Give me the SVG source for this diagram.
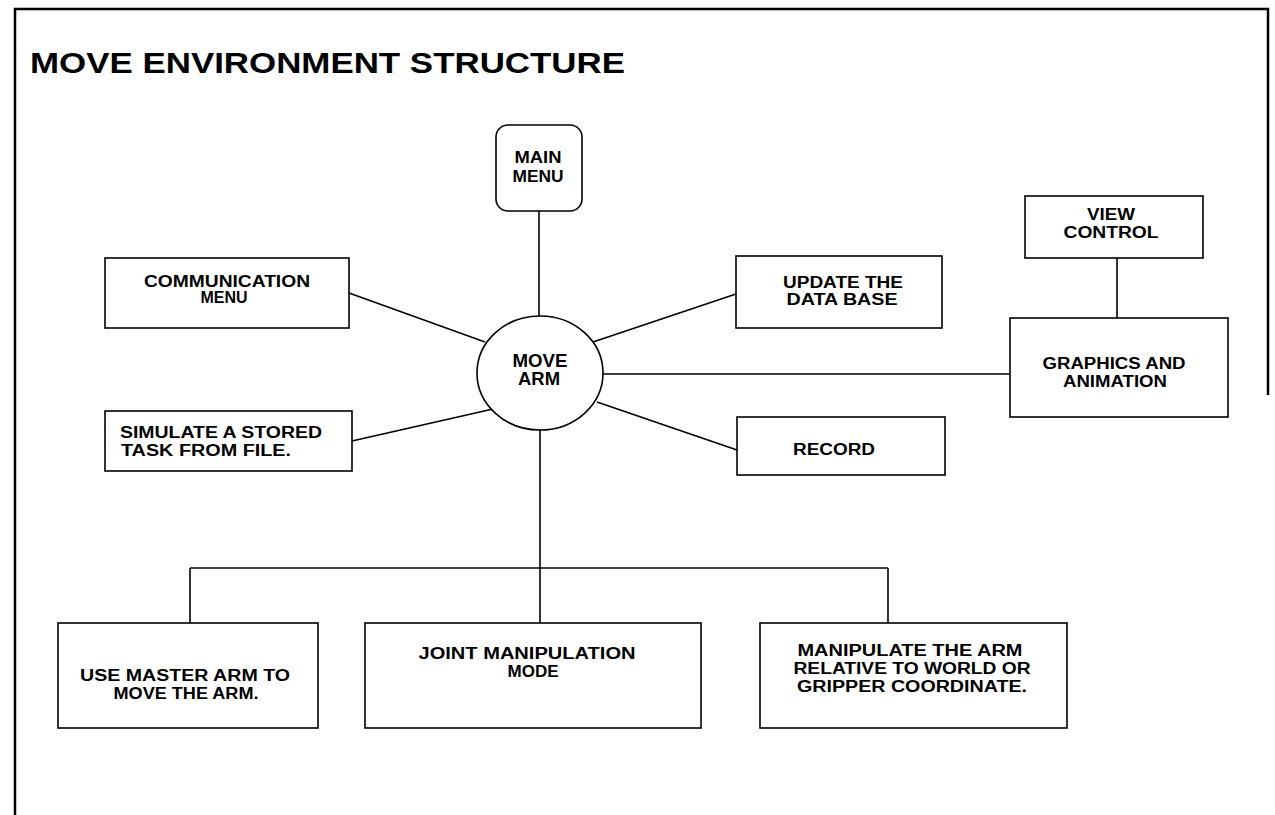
<svg xmlns="http://www.w3.org/2000/svg" width="1275" height="815" viewBox="0 0 1275 815">
<style>
.box{fill:#fff;stroke:#000;stroke-width:1.6}
.frame{fill:none;stroke:#000;stroke-width:2.5}
.conn line{stroke:#000;stroke-width:1.6}
text{font-family:"Liberation Sans",Arial,sans-serif;font-weight:bold;fill:#000;text-anchor:middle}
.t{font-size:16px}
.m{font-size:18px}
.title{font-size:29px;text-anchor:start}
</style>
<rect width="1275" height="815" fill="#fff"/>
<g id="frame">
<path class="frame" d="M15 815 V9 H1268 V395"/>
<text class="title" x="30" y="73" textLength="595" lengthAdjust="spacingAndGlyphs">MOVE ENVIRONMENT STRUCTURE</text>
</g>
<g class="conn" id="connectors">
<line x1="539" y1="211" x2="539" y2="317"/>
<line x1="349" y1="293" x2="485" y2="342"/>
<line x1="352" y1="441" x2="493" y2="409"/>
<line x1="593" y1="342" x2="736" y2="294"/>
<line x1="597" y1="402" x2="737" y2="450"/>
<line x1="603" y1="374" x2="1010" y2="374"/>
<line x1="1117" y1="258" x2="1117" y2="318"/>
<line x1="540" y1="430" x2="540" y2="623"/>
<line x1="190" y1="568" x2="888" y2="568"/>
<line x1="190" y1="568" x2="190" y2="623"/>
<line x1="888" y1="568" x2="888" y2="623"/>
</g>
<g id="main-menu">
<rect class="box" x="496" y="125" width="86" height="86" rx="12"/>
<text class="t" x="538" y="163" textLength="47" lengthAdjust="spacingAndGlyphs">MAIN</text>
<text class="t" x="538" y="182" textLength="51" lengthAdjust="spacingAndGlyphs">MENU</text>
</g>
<g id="move-arm">
<ellipse class="box" cx="540" cy="373" rx="63" ry="57"/>
<text class="m" x="540" y="367" textLength="55" lengthAdjust="spacingAndGlyphs">MOVE</text>
<text class="m" x="539" y="385" textLength="42" lengthAdjust="spacingAndGlyphs">ARM</text>
</g>
<g id="communication-menu">
<rect class="box" x="105" y="258" width="244" height="70"/>
<text class="t" x="227" y="287" textLength="166" lengthAdjust="spacingAndGlyphs">COMMUNICATION</text>
<text class="t" x="224" y="303" textLength="47" lengthAdjust="spacingAndGlyphs">MENU</text>
</g>
<g id="simulate">
<rect class="box" x="105" y="411" width="247" height="60"/>
<text class="t" x="221" y="438" textLength="202" lengthAdjust="spacingAndGlyphs">SIMULATE A STORED</text>
<text class="t" x="206" y="456" textLength="170" lengthAdjust="spacingAndGlyphs">TASK FROM FILE.</text>
</g>
<g id="update-database">
<rect class="box" x="736" y="256" width="206" height="72"/>
<text class="t" x="843" y="288" textLength="120" lengthAdjust="spacingAndGlyphs">UPDATE THE</text>
<text class="t" x="842" y="305" textLength="111" lengthAdjust="spacingAndGlyphs">DATA BASE</text>
</g>
<g id="record">
<rect class="box" x="737" y="417" width="208" height="58"/>
<text class="t" x="834" y="455" textLength="82" lengthAdjust="spacingAndGlyphs">RECORD</text>
</g>
<g id="view-control">
<rect class="box" x="1025" y="196" width="178" height="62"/>
<text class="t" x="1111" y="220" textLength="48" lengthAdjust="spacingAndGlyphs">VIEW</text>
<text class="t" x="1111" y="238" textLength="95" lengthAdjust="spacingAndGlyphs">CONTROL</text>
</g>
<g id="graphics-animation">
<rect class="box" x="1010" y="318" width="218" height="99"/>
<text class="t" x="1114" y="369" textLength="143" lengthAdjust="spacingAndGlyphs">GRAPHICS AND</text>
<text class="t" x="1115" y="387" textLength="104" lengthAdjust="spacingAndGlyphs">ANIMATION</text>
</g>
<g id="master-arm">
<rect class="box" x="58" y="623" width="260" height="105"/>
<text class="t" x="185" y="681" textLength="210" lengthAdjust="spacingAndGlyphs">USE MASTER ARM TO</text>
<text class="t" x="186" y="699" textLength="145" lengthAdjust="spacingAndGlyphs">MOVE THE ARM.</text>
</g>
<g id="joint-manipulation">
<rect class="box" x="365" y="623" width="336" height="105"/>
<text class="t" x="527" y="659" textLength="217" lengthAdjust="spacingAndGlyphs">JOINT MANIPULATION</text>
<text class="t" x="533" y="677" textLength="51" lengthAdjust="spacingAndGlyphs">MODE</text>
</g>
<g id="manipulate-arm">
<rect class="box" x="760" y="623" width="307" height="105"/>
<text class="t" x="910" y="656" textLength="225" lengthAdjust="spacingAndGlyphs">MANIPULATE THE ARM</text>
<text class="t" x="912" y="674" textLength="237" lengthAdjust="spacingAndGlyphs">RELATIVE TO WORLD  OR</text>
<text class="t" x="912" y="692" textLength="230" lengthAdjust="spacingAndGlyphs">GRIPPER COORDINATE.</text>
</g>
</svg>
